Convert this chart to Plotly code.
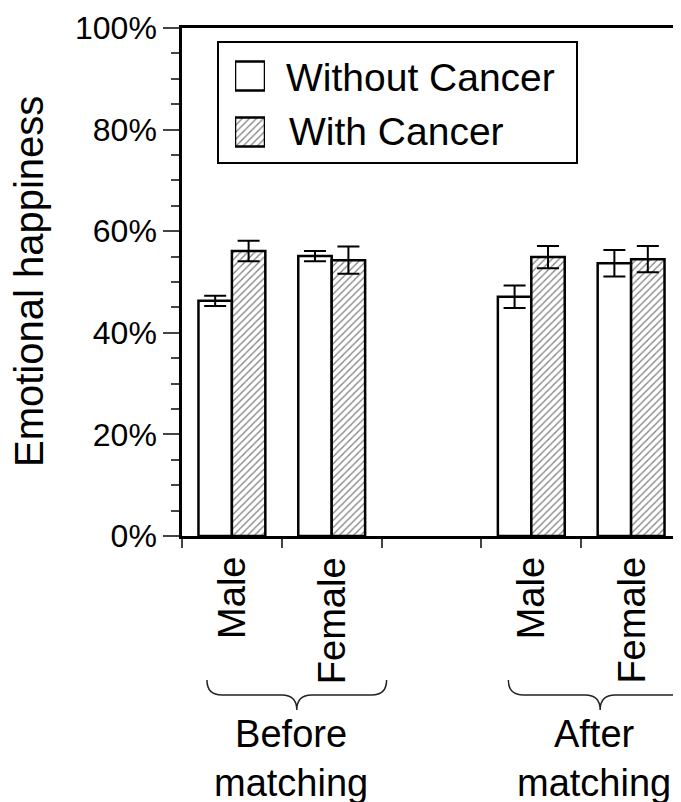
import plotly.graph_objects as go

# ---------------- data ----------------
series_names = ["Without Cancer", "With Cancer"]
slots = ["Before|Male", "Before|Female", "gap", "After|Male", "After|Female"]
slot_labels = ["Male", "Female", "", "Male", "Female"]
without_vals = [46.3, 55.1, None, 47.1, 53.7]
without_err = [1.0, 1.0, None, 2.2, 2.6]
with_vals = [56.1, 54.3, None, 54.9, 54.5]
with_err = [2.0, 2.7, None, 2.2, 2.6]
group_labels = ["Before<br>matching", "After<br>matching"]
brace_spans = [(-0.25, 0.65, 1.55), (2.77, 3.69, 4.61)]  # left, tip, right in category units
y_ticks = [0, 20, 40, 60, 80, 100]
y_ticktext = [f"{v}%" for v in y_ticks]

FONT = "Liberation Sans, Arial, sans-serif"
# the page body has an 8px margin, so the figure is drawn 8px smaller
W, H = 673, 794
ML, MR, MT, MB = 174, 0, 20, 266
PW = W - ML - MR
PH = H - MT - MB
REF_L, REF_B = 182, 536  # plot-area corner in the reference picture


def px_x(px):
    return (px - REF_L) / PW


def px_y(py):
    return (REF_B - py) / PH


fig = go.Figure()

hatch = dict(shape="/", fgcolor="black", bgcolor="white", size=5, solidity=0.25)

fig.add_trace(go.Bar(
    x=slots, y=without_vals, name=series_names[0],
    marker=dict(color="white", line=dict(color="black", width=2.5)),
    error_y=dict(type="data", array=without_err, color="black", thickness=2, width=11),
    showlegend=False,
))
fig.add_trace(go.Bar(
    x=slots, y=with_vals, name=series_names[1],
    marker=dict(color="white", line=dict(color="black", width=2.5), pattern=hatch),
    error_y=dict(type="data", array=with_err, color="black", thickness=2, width=11),
    showlegend=False,
))

# legend swatches (drawn with an overlay axis so they can be large)
fig.add_trace(go.Bar(
    y=[1], x=[1], orientation="h", width=0.52, xaxis="x2", yaxis="y2",
    marker=dict(color="white", line=dict(color="black", width=2.5)),
    showlegend=False, hoverinfo="skip",
))
fig.add_trace(go.Bar(
    y=[0], x=[1], orientation="h", width=0.52, xaxis="x2", yaxis="y2",
    marker=dict(color="white", line=dict(color="black", width=2.5), pattern=hatch),
    showlegend=False, hoverinfo="skip",
))

annotations = []
# category labels (rotated)
for s, lab in zip(slots, slot_labels):
    if lab:
        annotations.append(dict(
            x=s, xref="x", y=px_y(555), yref="paper", text=lab, textangle=-90,
            showarrow=False, xanchor="center", yanchor="top",
            font=dict(family=FONT, size=38, color="black"),
        ))

# group labels and braces
shapes = []
y_top, y_mid, y_tip = px_y(680), px_y(695), px_y(710)
for (xl, xc, xr), glab in zip(brace_spans, group_labels):
    r = 0.15
    path = (f"M{xl},{y_top} Q{xl},{y_mid} {xl + r},{y_mid} L{xc - r},{y_mid} "
            f"Q{xc},{y_mid} {xc},{y_tip} Q{xc},{y_mid} {xc + r},{y_mid} "
            f"L{xr - r},{y_mid} Q{xr},{y_mid} {xr},{y_top}")
    shapes.append(dict(type="path", path=path, xref="x", yref="paper",
                       line=dict(color="#222", width=1.5)))
    annotations.append(dict(
        x=xc - 0.06, xref="x", y=px_y(711), yref="paper", text=glab,
        showarrow=False, xanchor="center", yanchor="top", align="center",
        font=dict(family=FONT, size=38, color="black"),
    ))

# y axis title
annotations.append(dict(
    x=px_x(29), xref="paper", y=0.5, yref="paper", text="Emotional happiness",
    textangle=-90, showarrow=False, xanchor="center", yanchor="middle",
    font=dict(family=FONT, size=40, color="black"),
))

# legend
shapes.append(dict(type="rect", xref="paper", yref="paper",
                   x0=px_x(218), x1=px_x(577), y0=px_y(163), y1=px_y(42),
                   line=dict(color="black", width=2), fillcolor="rgba(0,0,0,0)"))
for name, py, pxl in zip(series_names, [77, 132], [284, 287]):
    annotations.append(dict(
        x=px_x(pxl), xref="paper", y=px_y(py), yref="paper", text=name,
        showarrow=False, xanchor="left", yanchor="middle",
        font=dict(family=FONT, size=39, color="black"),
    ))

fig.update_layout(
    width=W, height=H,
    margin=dict(l=ML, r=MR, t=MT, b=MB, pad=0),
    paper_bgcolor="white", plot_bgcolor="white",
    barmode="group", bargap=0.33, bargroupgap=0,
    font=dict(family=FONT, color="black"),
    xaxis=dict(
        type="category", categoryorder="array", categoryarray=slots,
        range=[-0.5, 4.5], tickson="boundaries", ticks="outside", ticklen=9,
        tickwidth=1.5, tickcolor="#444", showticklabels=False,
        showline=True, linecolor="black", linewidth=2.5, mirror=True,
        showgrid=False, zeroline=False, fixedrange=True,
    ),
    yaxis=dict(
        range=[0, 100], tickvals=y_ticks, ticktext=y_ticktext, ticks="outside",
        ticklen=16, tickwidth=1.5, tickcolor="#444",
        tickfont=dict(family=FONT, size=32, color="black"),
        minor=dict(dtick=5, ticks="outside", ticklen=8, tickwidth=1.5, tickcolor="#444"),
        showline=True, linecolor="black", linewidth=2.5, mirror=False,
        showgrid=False, zeroline=False, fixedrange=True,
    ),
    xaxis2=dict(domain=[px_x(235), px_x(265)], range=[0, 1], visible=False,
                anchor="y2", fixedrange=True),
    yaxis2=dict(domain=[px_y(160), px_y(48)], range=[-0.5, 1.5], visible=False,
                anchor="x2", fixedrange=True),
    annotations=annotations,
    shapes=shapes,
)

fig.write_html("out.html")
